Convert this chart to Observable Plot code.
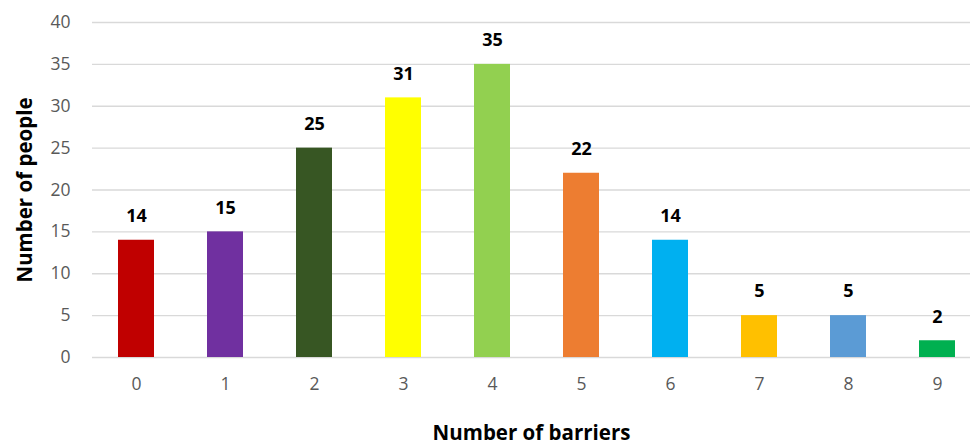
<!DOCTYPE html>
<html>
<head>
<meta charset="utf-8">
<script src="https://cdn.jsdelivr.net/npm/d3@7"></script>
<script src="https://cdn.jsdelivr.net/npm/@observablehq/plot@0.6"></script>
<style>
  html, body { margin: 0; padding: 0; background: #fff; }
  #chart svg { display: block; }
</style>
</head>
<body>
<div id="chart"></div>
<script>
const categories = ["0", "1", "2", "3", "4", "5", "6", "7", "8", "9"];
const counts = [14, 15, 25, 31, 35, 22, 14, 5, 5, 2];
const colors = ["#C00000", "#7030A0", "#375623", "#FFFF00", "#92D050", "#ED7D31", "#00B0F0", "#FFC000", "#5B9BD5", "#00B050"];
const yTicks = [0, 5, 10, 15, 20, 25, 30, 35, 40];
const xTitle = "Number of barriers";
const yTitle = "Number of people";

const data = categories.map((c, i) => ({ cat: c, value: counts[i] }));
const font = "'Open Sans', 'Noto Sans', sans-serif";

const chart = Plot.plot({
  width: 970,
  height: 448,
  marginLeft: 92,
  marginRight: 0,
  marginTop: 22,
  marginBottom: 91,
  style: { fontFamily: font, background: "#fff" },
  x: { domain: categories, range: [91, 981], paddingInner: 0.6, paddingOuter: 0.3, align: 0.5, label: null },
  y: { domain: [0, 40], ticks: yTicks, label: null },
  color: { domain: categories, range: colors },
  marks: [
    Plot.ruleY(yTicks, { stroke: "#d9d9d9", strokeWidth: 1.3 }),
    Plot.barY(data, { x: "cat", y: "value", fill: "cat" }),
    Plot.text(data, { x: "cat", y: "value", text: d => String(d.value), dy: -24, fontSize: 18, fontWeight: "bold", fill: "#000" }),
    Plot.axisY({ ticks: yTicks, tickSize: 0, tickPadding: 22, fontSize: 17.5, color: "#595959", label: null }),
    Plot.axisX({ tickSize: 0, tickPadding: 20, fontSize: 17.5, color: "#595959", label: null }),
    Plot.text([xTitle], { frameAnchor: "bottom", textAnchor: "middle", lineAnchor: "middle", dy: 76, fontSize: 20.5, fontWeight: "bold", fill: "#000" }),
    Plot.text([yTitle], { frameAnchor: "left", textAnchor: "middle", lineAnchor: "middle", dx: -67, rotate: -90, fontSize: 20.5, fontWeight: "bold", fill: "#000" })
  ]
});
document.getElementById("chart").appendChild(chart);
</script>
</body>
</html>
